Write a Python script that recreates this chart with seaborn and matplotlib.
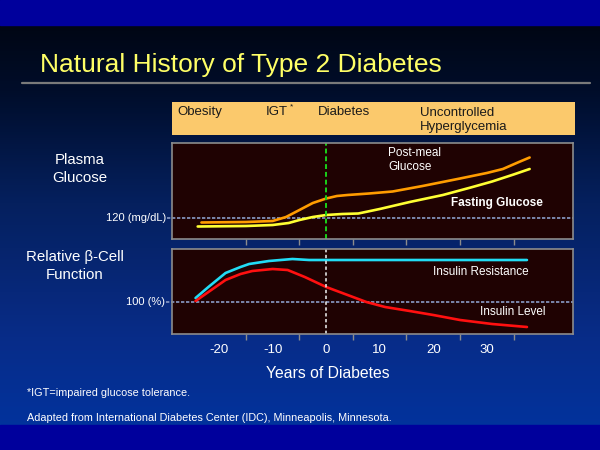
import matplotlib
matplotlib.use("Agg")
import matplotlib.pyplot as plt
import numpy as np
import pandas as pd
import seaborn as sns
from matplotlib.colors import LinearSegmentedColormap
from matplotlib.lines import Line2D
from matplotlib.patches import Rectangle

# values
postmeal_years = [-23.3, -15, -10, -7.5, -5, -2.5, 0, 2, 4, 8, 12.4, 18, 25, 30, 33, 36, 38]
postmeal_glucose = [111, 112, 114, 122, 136, 150, 159, 164, 166, 169, 173, 184, 199, 210, 218, 232, 241]

fasting_years = [-24, -15, -10, -7, -5, -2.5, 0, 3, 6, 10, 15.6, 21.8, 27, 31, 35, 38]
fasting_glucose = [103, 104, 106, 110, 116, 122, 126, 128, 129, 138, 152, 166, 181, 193, 207, 218]

resist_years = [-24.4, -22, -18.8, -16, -14.4, -10.7, -6.3, -3.2, 0, 37.5]
resist_level = [104, 115, 129, 135, 138, 141, 143, 142, 142, 142]

insulin_years = [-24.4, -22, -18.8, -16, -13.8, -10, -7.2, -4, 0, 4, 7.5, 11, 15.6, 20, 25, 31, 37.5]
insulin_level = [101, 110, 122, 128, 131, 133, 132, 125, 115, 107, 100, 95, 91, 87, 82, 78, 75]

stage_labels = ["Obesity", "IGT", "Diabetes", "Uncontrolled\nHyperglycemia"]
year_ticks = [-20, -10, 0, 10, 20, 30]
minor_ticks = [-15, -5, 5, 15, 25, 35]

sns.set_style("dark")
plt.rcParams["font.family"] = ["Liberation Sans", "DejaVu Sans"]
plt.rcParams["axes.unicode_minus"] = False

W, H = 600, 450


def px(x, y):
    # pixel position (from top left) -> figure fraction
    return x / W, 1 - y / H


def box(x0, y0, x1, y1):
    return [x0 / W, 1 - y1 / H, (x1 - x0) / W, (y1 - y0) / H]


fig = plt.figure(figsize=(6, 4.5), dpi=100)

# slide background gradient
bg = fig.add_axes([0, 0, 1, 1], zorder=-10)
cmap = LinearSegmentedColormap.from_list(
    "slide", [(0, "#00040c"), (0.2, "#000d2a"), (0.45, "#05205e"), (0.75, "#082c88"), (1, "#0034a2")])
bg.imshow(np.linspace(0, 1, 256).reshape(-1, 1), aspect="auto", cmap=cmap,
          extent=[0, 1, 0, 1], origin="upper")
bg.set_axis_off()

fig.patches.append(Rectangle(px(0, 25), 1, 25 / H, transform=fig.transFigure, color="#00009c", zorder=-5))
fig.patches.append(Rectangle((0, 0), 1, 25 / H, transform=fig.transFigure, color="#00009c", zorder=-5))

fig.text(*px(40, 72), "Natural History of Type 2 Diabetes", color="#ffff66", fontsize=19, va="baseline")
fig.lines.append(Line2D([22 / W, 590 / W], [1 - 83 / H] * 2, transform=fig.transFigure,
                        color="#7a7a7a", lw=1.6))

# stage band
fig.patches.append(Rectangle(px(172, 135), 403 / W, 33 / H, transform=fig.transFigure,
                             facecolor="#fbc96c", edgecolor="none"))
for lab, (x, y) in zip(stage_labels, [(177, 112), (266, 112), (318, 112), (420, 120)]):
    fig.text(*px(x, y), lab, color="#1a1a1a", fontsize=9.5, va="center", linespacing=1.25)
fig.text(*px(289.5, 107), "*", color="#1a1a1a", fontsize=6, va="center")

xlim = (-28.8, 46.1)

# glucose panel
ax1 = fig.add_axes(box(172, 143, 573, 239))
sns.lineplot(x=postmeal_years, y=postmeal_glucose, ax=ax1, color="#ff9c00", lw=1.9)
sns.lineplot(x=fasting_years, y=fasting_glucose, ax=ax1, color="#ffff33", lw=1.9)
ax1.set_ylim(78, 270)
ax1.axhline(120, color="#8a9cc8", lw=1.2, ls=(0, (2, 1)), xmin=-0.012, clip_on=False, zorder=1)
ax1.axvline(0, color="#19d219", lw=1.4, ls=(0, (2.5, 1.5)))

# beta-cell panel
ax2 = fig.add_axes(box(172, 249, 573, 334))
sns.lineplot(x=resist_years, y=resist_level, ax=ax2, color="#22dcf5", lw=1.9)
sns.lineplot(x=insulin_years, y=insulin_level, ax=ax2, color="#ff1010", lw=1.9)
ax2.set_ylim(68, 153)
ax2.axhline(100, color="#8a9cc8", lw=1.2, ls=(0, (2, 1)), xmin=-0.015, clip_on=False, zorder=1)
ax2.axvline(0, color="#e0e0e0", lw=1.2, ls=(0, (2, 1.5)))

for ax in (ax1, ax2):
    ax.set_facecolor("#1f0202")
    ax.set_xlim(*xlim)
    ax.set_yticks([])
    ax.set_xticks(year_ticks)
    ax.set_xticks(minor_ticks, minor=True)
    ax.tick_params(axis="x", which="major", length=0, pad=7, labelsize=9.5, colors="white")
    ax.tick_params(axis="x", which="minor", length=4, width=1, color="#8c8c8c", bottom=True)
    ax.grid(False)
    ax.set_xlabel("")
    ax.set_ylabel("")
    for s in ax.spines.values():
        s.set_visible(True)
        s.set_color("#8c8c8c")
        s.set_linewidth(1.2)
ax1.set_xticklabels([])

# curve labels
fig.text(*px(388, 160), "Post-meal\nGlucose", color="white", fontsize=8.5, va="center", linespacing=1.3)
fig.text(*px(451, 203), "Fasting Glucose", color="white", fontsize=8.5, va="center", fontweight="bold")
fig.text(*px(433, 272), "Insulin Resistance", color="white", fontsize=8.5, va="center")
fig.text(*px(480, 312), "Insulin Level", color="white", fontsize=8.5, va="center")

# left side labels
fig.text(*px(80, 169), "Plasma\nGlucose", color="white", fontsize=10.8, ha="center", va="center",
         linespacing=1.3)
fig.text(*px(166, 218), "120 (mg/dL)", color="white", fontsize=8, ha="right", va="center")
fig.text(*px(75, 266), "Relative \u03b2-Cell\nFunction", color="white", fontsize=10.8, ha="center",
         va="center", linespacing=1.3)
fig.text(*px(165, 302), "100 (%)", color="white", fontsize=8, ha="right", va="center")

fig.text(*px(328, 373), "Years of Diabetes", color="white", fontsize=11.3, ha="center", va="center")
fig.text(*px(27, 393), "*IGT=impaired glucose tolerance.", color="white", fontsize=7.8, va="center")
fig.text(*px(27, 418), "Adapted from International Diabetes Center (IDC), Minneapolis, Minnesota.",
         color="white", fontsize=7.8, va="center")

fig.savefig("out.png", dpi=100)
